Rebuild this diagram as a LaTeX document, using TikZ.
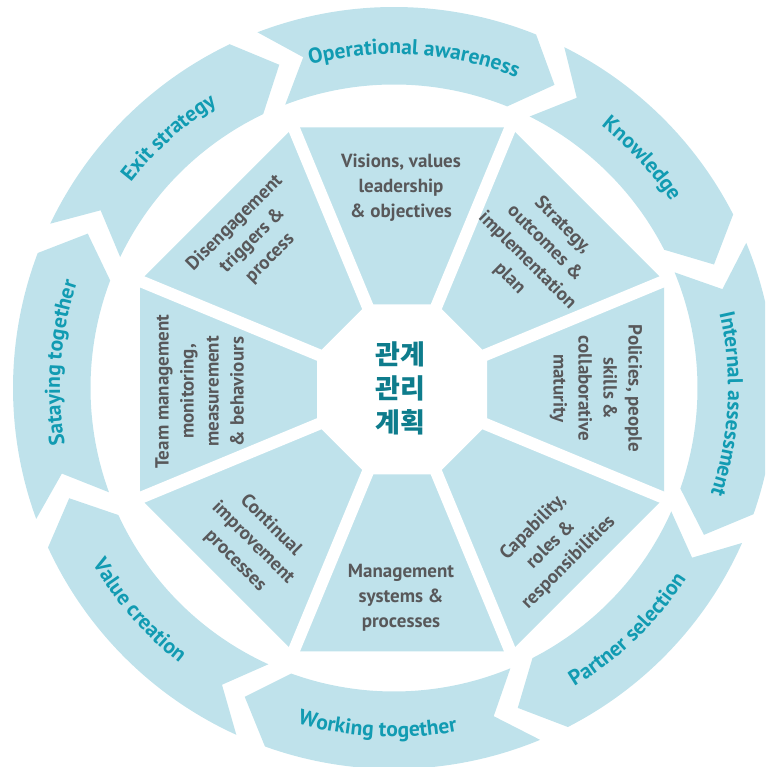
\documentclass[tikz,border=0pt]{standalone}
\usepackage{fontspec}
\setmainfont{PT Sans}
\newfontfamily\krfont{Noto Sans CJK KR}
\usetikzlibrary{decorations.text}
\definecolor{panelblue}{RGB}{191,226,235}
\definecolor{ringteal}{RGB}{17,155,178}
\definecolor{paneltextc}{RGB}{88,88,90}
\definecolor{hubteal}{RGB}{14,124,140}
\newcommand\ringfnt{\fontsize{21.5}{25}\selectfont\bfseries}
\begin{document}
\begin{tikzpicture}[x=1pt,y=1pt,
  paneltxt/.style={text=paneltextc, font=\fontsize{19}{25}\selectfont\bfseries, align=center, inner sep=0pt},
  hubtxt/.style={text=hubteal, font=\krfont\fontsize{27}{34}\selectfont\bfseries, align=center, inner sep=0pt},
  ringlabel/.style={decorate, decoration={text along path, text align=center, text color=ringteal, text={|\ringfnt|#1}}}
]
\useasboundingbox (0,0) rectangle (765,767);
\clip (0,0) rectangle (765,767);
% outer ring of arrow segments
\begin{scope}[shift={(394,379)}]
  \foreach \t/\h in {111.0/68.1, 63.45/27.1, 22.4/-19.35, -24.0/-62.85, -67.45/-109.8, -114.45/-155.25, -159.9/-200.75, -205.55/-244.46}
    \fill[panelblue] (\t:381) arc[start angle=\t, end angle=\h, radius=381] -- (\h-6:343) -- (\h:303.5) arc[start angle=\h, end angle=\t, radius=303.5] -- (\t-5.65:343) -- cycle;
  \path[ringlabel={Operational awareness}] (116.5:334) arc[start angle=116.5, end angle=56.5, radius=334];
  \path[ringlabel={Knowledge}] (72.8:334) arc[start angle=72.8, end angle=12.8, radius=334];
  \path[ringlabel={Internal assessment}] (27.25:334) arc[start angle=27.25, end angle=-32.75, radius=334];
  \path[ringlabel={Partner selection}] (-76:349) arc[start angle=-76, end angle=-16, radius=349];
  \path[ringlabel={Working together}] (-122.8:349) arc[start angle=-122.8, end angle=-62.8, radius=349];
  \path[ringlabel={Value creation}] (-168.9:349) arc[start angle=-168.9, end angle=-108.9, radius=349];
  \path[ringlabel={Sataying together}] (205.7:334) arc[start angle=205.7, end angle=145.7, radius=334];
  \path[ringlabel={Exit strategy}] (162:334) arc[start angle=162, end angle=102, radius=334];
\end{scope}
% inner octagon of panels
\begin{scope}[shift={(402,377.5)}]
  \fill[panelblue] (22.5:283.6) \foreach \k in {1,...,7} { -- (22.5+45*\k:283.6) } -- cycle;
  \foreach \k in {0,...,7} \draw[white, line width=12] (0,0) -- (22.5+45*\k:290);
  \fill[white] (22.5:92) \foreach \k in {1,...,7} { -- (22.5+45*\k:92) } -- cycle;
\end{scope}
\node[paneltxt] (vis) at (401,579) {Visions, values\\leadership\\\& objectives};
\node[paneltxt, rotate=-45] (str) at (536,515) {Strategy,\\outcomes \&\\implementation\\plan};
\node[paneltxt, rotate=-90] (pol) at (596,378.5) {Policies, people\\skills \&\\collaborative\\maturity};
\node[paneltxt, rotate=45] (cap) at (551,222) {Capability,\\roles \&\\responsibilities};
\node[paneltxt] (man) at (401,169) {Management\\systems \&\\processes};
\node[paneltxt, rotate=-45] (con) at (253,224) {Continual\\improvement\\processes};
\node[paneltxt, rotate=90] (team) at (199.5,375.5) {Team management\\monitoring,\\measurement\\\& behaviours};
\node[paneltxt, rotate=45] (dis) at (252.5,526.5) {Disengagement\\triggers \&\\process};
\node[hubtxt] (hub) at (400,379) {관계\\관리\\계획};
\end{tikzpicture}
\end{document}
